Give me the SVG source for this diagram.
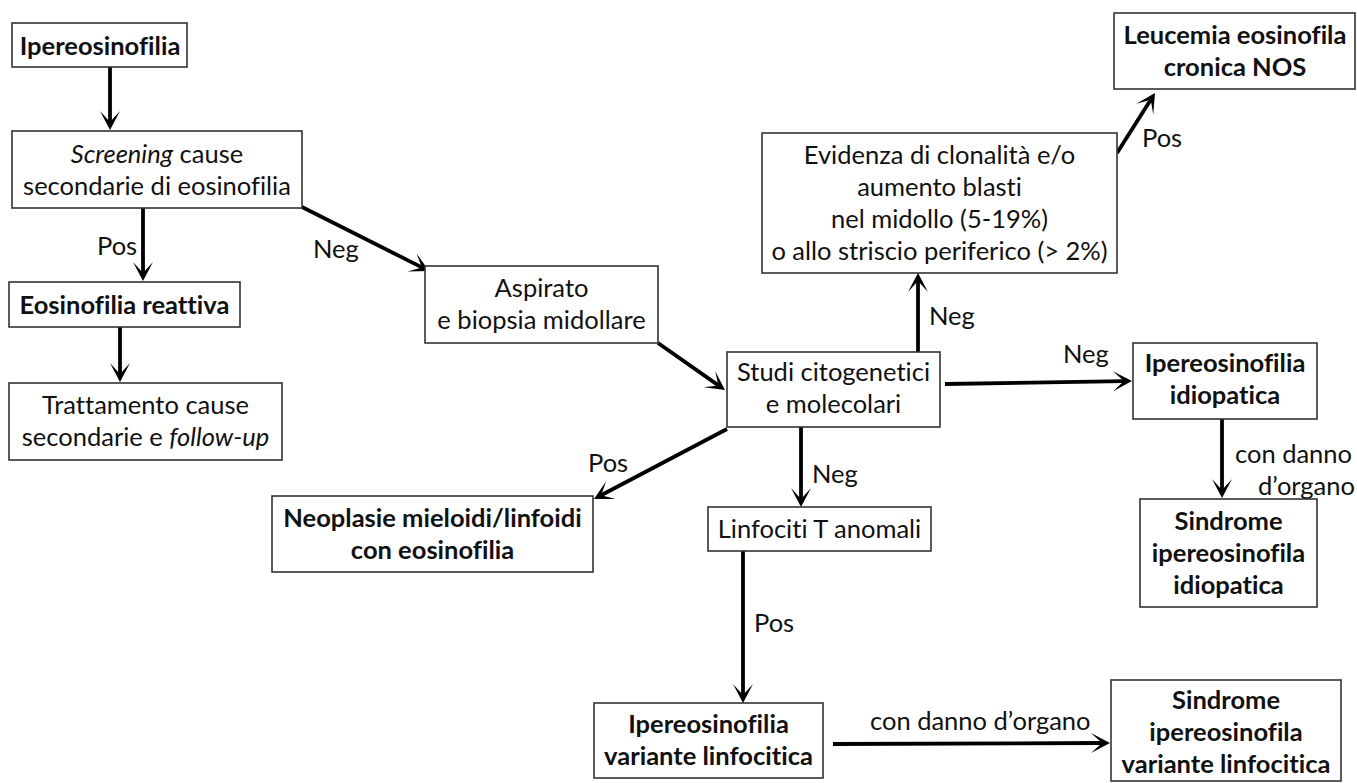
<svg xmlns="http://www.w3.org/2000/svg" width="1357" height="783" viewBox="0 0 1357 783">
<style>
  .box { fill: #ffffff; stroke: #333333; stroke-width: 1.6; }
  .t { font-family: Lato, "Open Sans", "Liberation Sans", sans-serif; font-size: 25.5px; fill: #111111; text-anchor: middle; font-variant-ligatures: none; }
  .b { font-weight: bold; }
  .lbl { font-family: Lato, "Open Sans", "Liberation Sans", sans-serif; font-size: 25.5px; fill: #111111; font-variant-ligatures: none; }
  .c { stroke: #000000; stroke-width: 3.8; fill: none; marker-end: url(#ah); }
  .i { font-style: italic; }
</style>
<defs>
  <marker id="ah" markerUnits="userSpaceOnUse" orient="auto" refX="-8" refY="0" markerWidth="30" markerHeight="30" overflow="visible">
    <path d="M0,0 L-19,-10 L-8,0 L-19,10 Z" fill="#000000"/>
  </marker>
</defs>
<rect width="1357" height="783" fill="#ffffff"/>

<g id="connectors">
  <line class="c" x1="110" y1="67" x2="110" y2="122"/>
  <line class="c" x1="143" y1="208" x2="143" y2="273"/>
  <line class="c" x1="120" y1="327" x2="120" y2="374"/>
  <line class="c" x1="302" y1="207" x2="421.9" y2="267.4"/>
  <line class="c" x1="658" y1="343" x2="718.4" y2="385.4"/>
  <line class="c" x1="918" y1="352" x2="918" y2="281"/>
  <line class="c" x1="1117" y1="153" x2="1150.7" y2="99.8"/>
  <line class="c" x1="945" y1="384" x2="1124" y2="381.1"/>
  <line class="c" x1="727" y1="429" x2="601.1" y2="495.3"/>
  <line class="c" x1="801" y1="427" x2="801" y2="499"/>
  <line class="c" x1="1222" y1="419" x2="1222" y2="490"/>
  <line class="c" x1="743" y1="551" x2="743" y2="695"/>
  <line class="c" x1="833" y1="744" x2="1102" y2="743"/>
  <text class="lbl" x="97" y="255">Pos</text>
  <text class="lbl" x="313" y="258">Neg</text>
  <text class="lbl" x="929" y="325">Neg</text>
  <text class="lbl" x="1142" y="147">Pos</text>
  <text class="lbl" x="1063" y="363">Neg</text>
  <text class="lbl" x="588" y="472">Pos</text>
  <text class="lbl" x="812" y="483">Neg</text>
  <text class="lbl" x="1235" y="463">con danno</text>
  <text class="lbl" x="1258" y="495">d’organo</text>
  <text class="lbl" x="754" y="632">Pos</text>
  <text class="lbl" x="870" y="730">con danno d’organo</text>
</g>

<g id="n1">
  <rect class="box" x="12" y="23" width="175" height="44"/>
  <text class="t b" x="100" y="54.5">Ipereosinofilia</text>
</g>
<g id="n2">
  <rect class="box" x="12" y="131" width="290" height="77"/>
  <text class="t" x="157" y="162.5"><tspan class="i">Screening</tspan> cause</text>
  <text class="t" x="157" y="194.5">secondarie di eosinofilia</text>
</g>
<g id="n3">
  <rect class="box" x="9" y="282" width="231" height="45"/>
  <text class="t b" x="124.5" y="314">Eosinofilia reattiva</text>
</g>
<g id="n4">
  <rect class="box" x="9" y="383" width="273" height="77"/>
  <text class="t" x="145.5" y="414">Trattamento cause</text>
  <text class="t" x="145.5" y="446">secondarie e <tspan class="i">follow-up</tspan></text>
</g>
<g id="n5">
  <rect class="box" x="425" y="266" width="233" height="77"/>
  <text class="t" x="541.5" y="297">Aspirato</text>
  <text class="t" x="541.5" y="329">e biopsia midollare</text>
</g>
<g id="n6">
  <rect class="box" x="727" y="352" width="213" height="75"/>
  <text class="t" x="833.5" y="381">Studi citogenetici</text>
  <text class="t" x="833.5" y="413">e molecolari</text>
</g>
<g id="n7">
  <rect class="box" x="762" y="133" width="355" height="140"/>
  <text class="t" x="939.5" y="164">Evidenza di clonalità e/o</text>
  <text class="t" x="939.5" y="196">aumento blasti</text>
  <text class="t" x="939.5" y="228">nel midollo (5-19%)</text>
  <text class="t" x="939.5" y="260">o allo striscio periferico (&gt; 2%)</text>
</g>
<g id="n8">
  <rect class="box" x="1114" y="13" width="241" height="76"/>
  <text class="t b" x="1235" y="44">Leucemia eosinofila</text>
  <text class="t b" x="1235" y="76">cronica NOS</text>
</g>
<g id="n9">
  <rect class="box" x="1133" y="343" width="184" height="76"/>
  <text class="t b" x="1225" y="372">Ipereosinofilia</text>
  <text class="t b" x="1225" y="404">idiopatica</text>
</g>
<g id="n10">
  <rect class="box" x="1140" y="499" width="177" height="108"/>
  <text class="t b" x="1228.5" y="530">Sindrome</text>
  <text class="t b" x="1228.5" y="562">ipereosinofila</text>
  <text class="t b" x="1228.5" y="594">idiopatica</text>
</g>
<g id="n11">
  <rect class="box" x="272" y="496" width="321" height="76"/>
  <text class="t b" x="432.5" y="527">Neoplasie mieloidi/linfoidi</text>
  <text class="t b" x="432.5" y="559">con eosinofilia</text>
</g>
<g id="n12">
  <rect class="box" x="708" y="507" width="223" height="44"/>
  <text class="t" x="819.5" y="538">Linfociti T anomali</text>
</g>
<g id="n13">
  <rect class="box" x="594" y="703" width="229" height="75"/>
  <text class="t b" x="708.5" y="733">Ipereosinofilia</text>
  <text class="t b" x="708.5" y="765">variante linfocitica</text>
</g>
<g id="n14">
  <rect class="box" x="1111" y="680" width="230" height="101"/>
  <text class="t b" x="1226" y="709">Sindrome</text>
  <text class="t b" x="1226" y="741">ipereosinofila</text>
  <text class="t b" x="1226" y="773">variante linfocitica</text>
</g>
</svg>
